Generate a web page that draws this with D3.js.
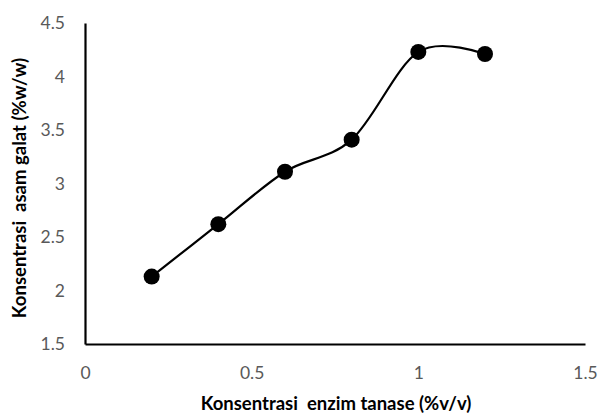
<!DOCTYPE html>
<html><head><meta charset="utf-8">
<script src="https://cdn.jsdelivr.net/npm/d3@7"></script>
<style>body{margin:0;background:#fff}svg{display:block}</style>
</head><body>
<svg id="c" width="599" height="416"></svg>
<script>
const xValues = [0.2, 0.4, 0.6, 0.8, 1.0, 1.2];
const yValues = [2.13, 2.62, 3.11, 3.41, 4.23, 4.21];
const xTicks = [0, 0.5, 1, 1.5];
const yTicks = [1.5, 2, 2.5, 3, 3.5, 4, 4.5];
const xTitle = "Konsentrasi  enzim tanase (%v/v)";
const yTitle = "Konsentrasi  asam galat (%w/w)";

(function () {
const svg = d3.select("#c");
const mLeft = 85, mRight = 585, mTop = 23, mBottom = 344;
const x = d3.scaleLinear().domain([0, 1.5]).range([mLeft, mRight]);
const y = d3.scaleLinear().domain([1.5, 4.5]).range([mBottom, mTop]);
const font = "Lato, 'Open Sans', sans-serif";

const xAxis = svg.append("g").attr("transform", `translate(0,${mBottom})`)
  .call(d3.axisBottom(x).tickValues(xTicks).tickSize(0).tickPadding(23).tickFormat(d3.format("~g")));
const yAxis = svg.append("g").attr("transform", `translate(${mLeft},0)`)
  .call(d3.axisLeft(y).tickValues(yTicks).tickSize(0).tickPadding(20).tickFormat(d3.format("~g")));
[xAxis, yAxis].forEach(a => {
  a.select(".domain").attr("stroke", "#000").attr("stroke-width", 2.2);
  a.selectAll("text").attr("fill", "#595959").style("font-family", font).style("font-size", "17.5px");
});

const line = d3.line().x((d, i) => x(xValues[i])).y(d => y(d)).curve(d3.curveCardinal.tension(0));
svg.append("path").datum(yValues).attr("d", line).attr("fill", "none").attr("stroke", "#000").attr("stroke-width", 2.2);

svg.selectAll("circle.pt").data(yValues).enter().append("circle")
  .attr("cx", (d, i) => x(xValues[i])).attr("cy", d => y(d)).attr("r", 8).attr("fill", "#000");

svg.append("text").attr("x", 336).attr("y", 410).attr("text-anchor", "middle")
  .style("font-family", font).style("font-weight", "bold").style("font-size", "18.5px").attr("fill", "#000")
  .style("white-space", "pre").text(xTitle);
svg.append("text").attr("transform", "translate(26,188) rotate(-90)").attr("text-anchor", "middle")
  .style("font-family", font).style("font-weight", "bold").style("font-size", "18.5px").attr("fill", "#000")
  .style("white-space", "pre").text(yTitle);
})();
</script>
</body></html>
